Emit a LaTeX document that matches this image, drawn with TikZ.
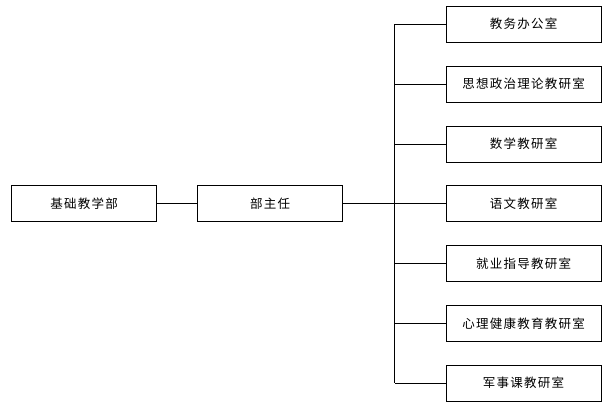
\documentclass[tikz,border=0pt]{standalone}
\usepackage{fontspec}
\setmainfont{Noto Sans CJK SC}[LetterSpace=10]
\begin{document}
\begin{tikzpicture}[x=1pt,y=-1pt,
  box/.style={draw=black,line width=0.8pt,minimum height=36pt,inner sep=0pt,font=\fontsize{12.5}{14}\selectfont},
  lbox/.style={box,minimum width=145pt},
  rbox/.style={box,minimum width=155pt},
  conn/.style={draw=black,line width=0.8pt}]
\useasboundingbox (0,0) rectangle (610,408);
\node[lbox] (jc) at (84,203.5) {基础教学部};
\node[lbox] (bz) at (270,203.5) {部主任};
\node[rbox] (r1) at (523.5,24) {教务办公室};
\node[rbox] (r2) at (523.5,84) {思想政治理论教研室};
\node[rbox] (r3) at (523.5,144) {数学教研室};
\node[rbox] (r4) at (523.5,203.5) {语文教研室};
\node[rbox] (r5) at (523.5,263.5) {就业指导教研室};
\node[rbox] (r6) at (523.5,323.5) {心理健康教育教研室};
\node[rbox] (r7) at (523.5,383) {军事课教研室};
\coordinate (top) at (394.5,24);
\coordinate (bot) at (394.5,383);
\coordinate (mid) at (394.5,203.5);
\draw[conn] (jc) -- (bz);
\draw[conn] (bz) -- (mid);
\draw[conn] (top) -- (bot);
\foreach \n in {r1,r2,r3,r4,r5,r6,r7}{\draw[conn] (\n.west) -- (\n.west -| top);}
\end{tikzpicture}
\end{document}
